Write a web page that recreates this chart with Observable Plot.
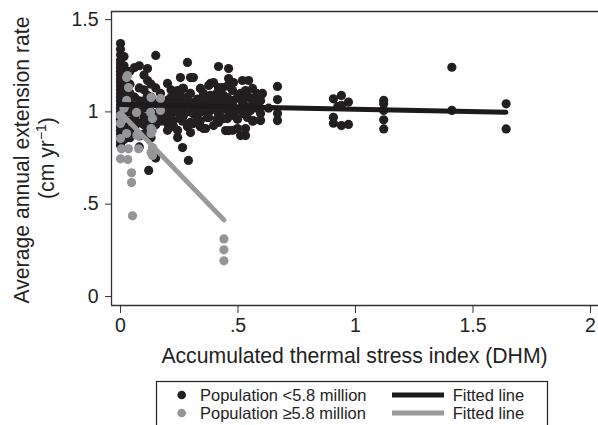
<!DOCTYPE html>
<html>
<head>
<meta charset="utf-8">
<script src="https://cdn.jsdelivr.net/npm/d3@7"></script>
<script src="https://cdn.jsdelivr.net/npm/@observablehq/plot@0.6"></script>
<style>
  html, body { margin: 0; padding: 0; background: #fff; overflow: hidden; }
  #wrap { position: relative; width: 598px; height: 425px; }
  #legend { position: absolute; left: 0; top: 372px; }
</style>
</head>
<body>
<div id="wrap"><div id="chart"></div><div id="legend"></div></div>
<script>
// Population < 5.8 million: [DHM x, [extension rates at that x]]
const lowPopCols = [
  [0.000, [1.37,1.34,1.31,1.28,1.26,1.24,1.22,1.20,1.18,1.16,1.14,1.12,1.10,1.08,1.06,1.04,1.02,1.00,0.98,0.96,0.94,0.92,0.90,0.88,0.86,0.84,0.82]],
  [0.015, [1.30,1.25,1.21,1.17,1.13,1.09,1.05,1.01,0.97,0.93,0.89,0.85]],
  [0.040, [1.22,1.15,1.10,1.05,1.00,0.95,0.90,0.86]],
  [0.060, [1.24,1.08,1.03,0.97,0.92]],
  [0.080, [1.25,1.13,1.06,1.00,0.94,0.87,0.81]],
  [0.100, [1.20,1.12,1.06,1.02,0.97,0.93,0.88]],
  [0.115, [1.235,1.17,1.09,1.04,0.97,0.90]],
  [0.120, [0.683]],
  [0.130, [1.15,1.08,1.00,0.95,0.86]],
  [0.150, [1.306,1.13,1.045,0.99,0.93,0.75]],
  [0.170, [1.10,1.06,1.02,0.99,0.95]],
  [0.200, [1.154,1.062,1.03,1.00,0.97,0.937,0.90]],
  [0.215, [1.12,1.08,1.04,0.98,0.95]],
  [0.226, [1.078,1.008,0.953,0.92]],
  [0.243, [1.116,1.05,1.00,0.861,0.90]],
  [0.255, [1.186,1.09,1.03,0.97]],
  [0.264, [1.127,1.06,0.807,0.95]],
  [0.268, [1.127,0.98,1.01]],
  [0.285, [1.268,1.045,1.08,0.92]],
  [0.289, [0.737]],
  [0.298, [1.186,1.10,0.943,0.888,1.00]],
  [0.310, [1.186,1.05,0.99,0.937]],
  [0.328, [1.024,1.07,0.96]],
  [0.340, [1.127,1.062,1.00,0.953,0.92]],
  [0.353, [0.91,1.04,1.10]],
  [0.362, [0.91]],
  [0.370, [1.062,1.00,0.97]],
  [0.375, [1.143,0.97,1.03]],
  [0.383, [1.154,1.008,1.09]],
  [0.396, [1.159,1.078,0.926,1.04]],
  [0.410, [1.10,1.02,0.96]],
  [0.417, [1.246,1.132,0.943,0.99]],
  [0.426, [1.062,1.008,1.12]],
  [0.434, [1.132,1.05]],
  [0.438, [0.964,1.09]],
  [0.447, [0.899,1.03]],
  [0.455, [1.078,0.964,1.14]],
  [0.460, [1.235,1.181,1.00,0.899]],
  [0.468, [1.008,1.06]],
  [0.477, [1.116,0.90,1.04]],
  [0.481, [1.159,1.062,0.98]],
  [0.498, [0.91,1.08,1.01,0.96]],
  [0.511, [1.008,0.872,1.10]],
  [0.519, [1.17,1.05]],
  [0.523, [1.073,0.99]],
  [0.532, [1.116,0.91,0.872,1.03]],
  [0.540, [0.97,1.09]],
  [0.545, [1.17,1.01]],
  [0.553, [1.073,1.008]],
  [0.562, [1.127,1.04,0.95]],
  [0.566, [1.062,0.953]],
  [0.580, [1.10,1.02]],
  [0.596, [0.991,0.953,1.06]],
  [0.600, [1.094]],
  [0.604, [1.10]],
  [0.630, [1.02]],
  [0.668, [1.138,1.067,0.991,0.953]],
  [0.906, [1.071,0.971,0.939]],
  [0.925, [1.03]],
  [0.940, [1.089,1.035,0.926]],
  [0.970, [1.053,0.932]],
  [1.120, [1.062,1.044,1.008,0.957,0.908]],
  [1.410, [1.242,1.008]],
  [1.641, [1.044,0.908]]
];
// Population >= 5.8 million
const highPopX = [0.000,0.010,0.026,0.000,0.077,0.130,0.130,0.004,0.034,0.077,0.130,0.047,0.047,0.051,0.000,0.031,0.440,0.440,0.440,0.026,0.034,0.030,0.026,0.130,0.170,0.170,0.068,0.128,0.136,0.136,0.136,0.136,0.000,0.015,0.070];
const highPopY = [0.937,0.960,0.883,0.856,0.872,0.910,0.883,0.800,0.800,0.800,0.780,0.670,0.617,0.437,0.746,0.742,0.312,0.253,0.193,1.186,1.132,1.197,1.062,1.078,1.073,1.008,0.997,0.997,0.964,0.899,0.807,0.764,0.980,1.020,0.872];
// Fitted lines (endpoints)
const fitLowX = [0, 1.64];
const fitLowY = [1.04, 0.998];
const fitHighX = [0, 0.44];
const fitHighY = [0.995, 0.415];
// Axes
const xTicks = [0, 0.5, 1, 1.5, 2];
const yTicks = [0, 0.5, 1, 1.5];
const xTitle = "Accumulated thermal stress index (DHM)";
const yTitle1 = "Average annual extension rate";
const legendLabels = ["Population <5.8 million", "Population \u22655.8 million", "Fitted line", "Fitted line"];

const BLACK = "#231f20", GRAY = "#939598";
const lowPop = lowPopCols.flatMap(([x, ys]) => ys.map(y => ({x, y})));
const highPop = highPopX.map((x, i) => ({x, y: highPopY[i]}));
const fitLow = fitLowX.map((x, i) => ({x, y: fitLowY[i]}));
const fitHigh = fitHighX.map((x, i) => ({x, y: fitHighY[i]}));
const fmt = d => d === 0 ? "0" : String(d).replace(/^0\./, ".");

const xDom = [-0.0383, 2.034], yDom = [-0.0488, 1.5439];
const font = "'Liberation Sans', Arial, Helvetica, sans-serif";

const chart = Plot.plot({
  width: 598, height: 372,
  marginLeft: 111, marginRight: 0, marginTop: 11, marginBottom: 67,
  x: {domain: xDom},
  y: {domain: yDom},
  style: {fontFamily: font, fontSize: "19.5px", color: "#222", background: "#fff", overflow: "visible"},
  marks: [
    Plot.axisX({ticks: xTicks, tickFormat: fmt, tickSize: 8, tickPadding: 5, label: null, stroke: "#333"}),
    Plot.axisY({ticks: yTicks, tickFormat: fmt, tickSize: 6, tickPadding: 7, label: null, stroke: "#333"}),
    Plot.dot(lowPop, {x: "x", y: "y", r: 4.6, fill: BLACK, stroke: "none"}),
    Plot.dot(highPop, {x: "x", y: "y", r: 4.6, fill: GRAY, stroke: "none"}),
    Plot.line(fitLow, {x: "x", y: "y", stroke: "#1c1a1b", strokeWidth: 5, strokeLinecap: "round"}),
    Plot.line(fitHigh, {x: "x", y: "y", stroke: "#9a9a9c", strokeWidth: 5, strokeLinecap: "round"}),
    Plot.ruleX([xDom[0]], {y1: yDom[0], y2: yDom[1], stroke: "#333", strokeWidth: 1.3}),
    Plot.ruleY([yDom[0], yDom[1]], {stroke: "#333", strokeWidth: 1.3})
  ]
});
document.getElementById("chart").appendChild(chart);

const svg = d3.select(chart);
svg.append("text")
  .attr("x", 354.5).attr("y", 363).attr("text-anchor", "middle")
  .attr("font-family", font).attr("font-size", 21.2).attr("fill", "#222")
  .text(xTitle);
const yt = svg.append("g").attr("font-family", font).attr("font-size", 21.2).attr("fill", "#222");
yt.append("text").attr("transform", "translate(29,160) rotate(-90)").attr("text-anchor", "middle").text(yTitle1);
const l2 = yt.append("text").attr("transform", "translate(54,158) rotate(-90)").attr("text-anchor", "middle");
l2.append("tspan").text("(cm yr");
l2.append("tspan").attr("font-size", 14).attr("dy", -8).text("\u22121");
l2.append("tspan").attr("dy", 8).text(")");

// Legend below the chart
const lg = d3.select("#legend").append("svg").attr("width", 598).attr("height", 53)
  .attr("font-family", font).attr("font-size", 16.5);
lg.append("rect").attr("x", 156.5).attr("y", 9.5).attr("width", 391).attr("height", 70)
  .attr("fill", "none").attr("stroke", "#222").attr("stroke-width", 1.2);
const rows = [{c: BLACK, lc: "#1c1a1b", y: 23}, {c: GRAY, lc: "#9a9a9c", y: 41}];
rows.forEach((r, i) => {
  lg.append("circle").attr("cx", 181.7).attr("cy", r.y).attr("r", 4.3).attr("fill", r.c);
  lg.append("text").attr("x", 200).attr("y", r.y + 6).attr("fill", "#222").text(legendLabels[i]);
  lg.append("line").attr("x1", 392).attr("x2", 444).attr("y1", r.y).attr("y2", r.y)
    .attr("stroke", r.lc).attr("stroke-width", 5);
  lg.append("text").attr("x", 452.7).attr("y", r.y + 6).attr("fill", "#222").text(legendLabels[i + 2]);
});
</script>
</body>
</html>
